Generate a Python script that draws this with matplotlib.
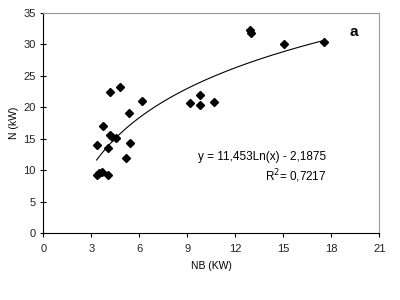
import numpy as np
import matplotlib
matplotlib.use('Agg')
import matplotlib.pyplot as plt

plt.rcParams['font.family'] = ['Liberation Sans', 'DejaVu Sans']

# 数据
nb = [3.34, 3.75, 4.19, 4.81, 6.19, 5.36, 4.19, 4.33, 4.54, 4.06, 5.4, 5.17,
      3.34, 3.5, 3.65, 4.06, 9.2, 9.8, 9.8, 10.7, 12.9, 13.0, 15.04, 17.55]
n = [14.0, 17.1, 22.5, 23.2, 21.0, 19.1, 15.6, 15.3, 15.1, 13.6, 14.3, 11.9,
     9.3, 9.5, 9.7, 9.3, 20.6, 21.9, 20.3, 20.8, 32.3, 31.8, 30.0, 30.3]

# 对数趋势线系数
a_coef = 11.453
b_coef = -2.1875
r2 = 0.7217

fig = plt.figure(figsize=(4, 3), dpi=100)
ax = fig.add_axes([0.108, 0.223, 0.84, 0.734])

ax.plot(nb, n, 'D', color='black', markersize=4, zorder=3)

xs = np.linspace(min(nb), max(nb), 100)
ax.plot(xs, a_coef * np.log(xs) + b_coef, color='black', linewidth=0.8)

ax.set_xlim(0, 21)
ax.set_ylim(0, 35)
ax.set_xticks(range(0, 22, 3))
ax.set_yticks(range(0, 36, 5))
ax.tick_params(labelsize=8, length=3, width=0.8, color='black', labelcolor='#222222')
ax.tick_params(axis='y', direction='inout', length=5, pad=3)
ax.tick_params(axis='x', direction='out', pad=5)

for s in ['top', 'right']:
    ax.spines[s].set_color('#999999')
for s in ['left', 'bottom']:
    ax.spines[s].set_color('black')

ax.set_xlabel('NB (KW)', fontsize=7.5, labelpad=5)
ax.set_ylabel('N (kW)', fontsize=7.5, labelpad=3)

ax.text(17.7, 12.1, 'y = 11,453Ln(x) - 2,1875', fontsize=8.5, ha='right', va='center')
ax.text(17.7, 9.1, 'R$^2$= 0,7217', fontsize=8.5, ha='right', va='center')
ax.text(19.4, 32.0, 'a', fontsize=11, fontweight='bold', ha='center', va='center')

fig.savefig('out.png')
